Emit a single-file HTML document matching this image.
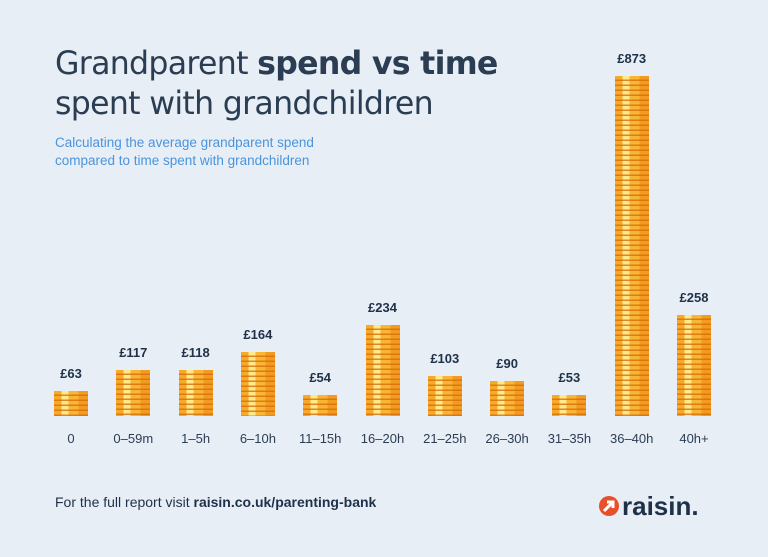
<!DOCTYPE html>
<html><head><meta charset="utf-8"><style>
body{margin:0;width:768px;height:557px;background:#e8eef6;font-family:"Liberation Sans",sans-serif;position:relative;overflow:hidden}
.t{position:absolute;left:55px;color:#2b3d52;font-family:"DejaVu Sans",sans-serif;font-size:31.6px;line-height:40px;letter-spacing:-0.7px}
.sub{position:absolute;left:55px;top:134px;color:#4a94dc;font-size:13.5px;line-height:18px}
.bar{position:absolute;width:34px;background:repeating-linear-gradient(to bottom,rgba(0,0,0,0) 0 3.5px,rgba(214,110,10,.8) 3.5px 5px),linear-gradient(to right,#f7a92a 0 22%,#ffe98a 22% 42%,#f9b535 42% 72%,#f29b20 72% 100%)}
.val{position:absolute;width:80px;text-align:center;font-weight:bold;font-size:13px;color:#1e3148}
.cat{position:absolute;width:80px;text-align:center;font-size:13px;color:#2b3d52;top:431px}
</style></head><body>
<div class="t" style="top:44px">Grandparent <b>spend vs time</b></div>
<div class="t" style="top:84px">spent with grandchildren</div>
<div class="sub">Calculating the average grandparent spend<br>compared to time spent with grandchildren</div>
<div id="chart"></div>
<div style="position:absolute;left:55px;top:494px;font-size:14px;color:#1e3148">For the full report visit <b>raisin.co.uk/parenting-bank</b></div>
<div style="position:absolute;left:598px;top:490px;height:32px;display:flex;align-items:center">
<svg width="22" height="22" viewBox="0 0 22 22"><circle cx="11" cy="11" r="10" fill="#e8502a"/><path d="M6 16 L14 8 M9 7 H15 V13" stroke="#fff" stroke-width="3" fill="none"/></svg>
<span style="font-weight:bold;font-size:26px;color:#1e3148;margin-left:2px">raisin.</span></div>
<script>
const categories=["0","0–59m","1–5h","6–10h","11–15h","16–20h","21–25h","26–30h","31–35h","36–40h","40h+"];
const values=[63,117,118,164,54,234,103,90,53,873,258];
const labels=["£63","£117","£118","£164","£54","£234","£103","£90","£53","£873","£258"];
const c=document.getElementById('chart');
const x=i=>71+i*62.3, y=v=>v*0.39, base=416;
values.forEach((v,i)=>{
 const b=document.createElement('div');b.className='bar';
 
 
 const h=y(v);b.style.left=(x(i)-17)+'px';b.style.top=(base-h)+'px';b.style.height=h+'px';c.appendChild(b);
 const l=document.createElement('div');l.className='val';
 
 
 l.textContent=labels[i];l.style.left=(x(i)-40)+'px';l.style.top=(base-h-25)+'px';c.appendChild(l);
 const t=document.createElement('div');t.className='cat';
 
 
 t.textContent=categories[i];t.style.left=(x(i)-40)+'px';c.appendChild(t);
});
</script>
</body></html>
